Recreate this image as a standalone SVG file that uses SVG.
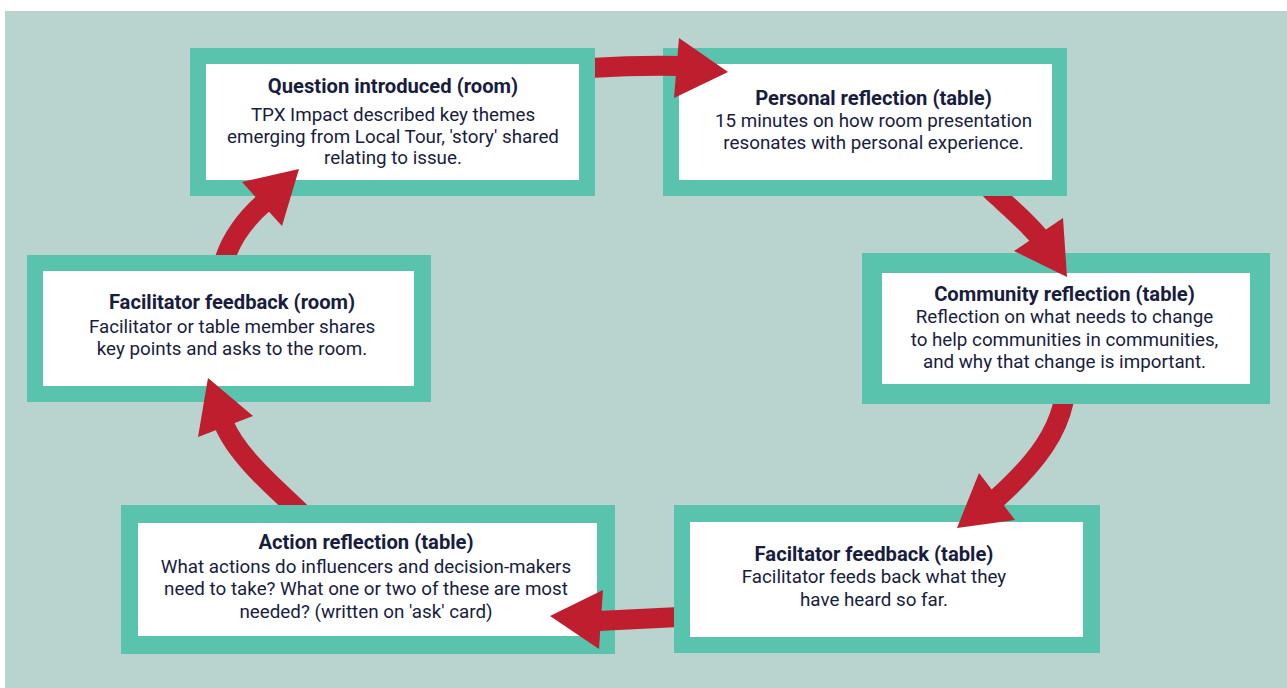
<svg xmlns="http://www.w3.org/2000/svg" width="1287" height="688" viewBox="0 0 1287 688">
<style>
.frame{fill:#5ac3ae}
.inner{fill:#ffffff}
.t{font-family:Roboto,"Liberation Sans",sans-serif;font-size:18.8px;fill:#181c3e;text-anchor:middle}
.b{font-weight:bold;font-size:20.2px}
.shaft{fill:none;stroke:#be1e2d;stroke-width:20}
.head{fill:#be1e2d}
</style>
<defs>
<clipPath id="c1"><rect x="595" y="0" width="692" height="688"/></clipPath>
<clipPath id="c2"><rect x="0" y="196" width="1287" height="492"/></clipPath>
<clipPath id="c3"><rect x="0" y="404" width="1287" height="284"/></clipPath>
<clipPath id="c4"><rect x="0" y="0" width="674" height="688"/></clipPath>
<clipPath id="c5"><rect x="0" y="0" width="1287" height="505"/></clipPath>
<clipPath id="c6"><rect x="0" y="0" width="1287" height="255"/></clipPath>
</defs>
<rect x="0" y="0" width="1287" height="688" fill="#ffffff"/>
<rect x="5" y="11" width="1282" height="677" fill="#b9d3ce"/>

<g id="node-question">
<rect class="frame" x="190" y="48" width="405" height="148"/>
<rect class="inner" x="206" y="64" width="373" height="116"/>
<text class="t b" x="393" y="93">Question introduced (room)</text>
<text class="t" x="393" y="121">TPX Impact described key themes</text>
<text class="t" x="393" y="143">emerging from Local Tour, 'story' shared</text>
<text class="t" x="393" y="164">relating to issue.</text>
</g>

<g id="node-personal">
<rect class="frame" x="663" y="48" width="404" height="148"/>
<rect class="inner" x="679" y="64" width="373" height="116"/>
<text class="t b" x="873.5" y="105">Personal reflection (table)</text>
<text class="t" x="873.5" y="127">15 minutes on how room presentation</text>
<text class="t" x="873.5" y="149">resonates with personal experience.</text>
</g>

<g id="node-community">
<rect class="frame" x="862" y="253" width="408" height="151"/>
<rect class="inner" x="882" y="273" width="368" height="111"/>
<text class="t b" x="1064.5" y="301">Community reflection (table)</text>
<text class="t" x="1064.5" y="323">Reflection on what needs to change</text>
<text class="t" x="1064.5" y="346">to help communities in communities,</text>
<text class="t" x="1064.5" y="368">and why that change is important.</text>
</g>

<g id="node-facilitator-table">
<rect class="frame" x="674" y="505" width="426" height="148"/>
<rect class="inner" x="690" y="522" width="393" height="115"/>
<text class="t b" x="874" y="561">Faciltator feedback (table)</text>
<text class="t" x="874" y="583">Facilitator feeds back what they</text>
<text class="t" x="874" y="606">have heard so far.</text>
</g>

<g id="node-action">
<rect class="frame" x="121" y="505" width="494" height="149"/>
<rect class="inner" x="138" y="523" width="459" height="113"/>
<text class="t b" x="366" y="549">Action reflection (table)</text>
<text class="t" x="366" y="573">What actions do influencers and decision-makers</text>
<text class="t" x="366" y="595">need to take? What one or two of these are most</text>
<text class="t" x="366" y="618">needed? (written on 'ask' card)</text>
</g>

<g id="node-facilitator-room">
<rect class="frame" x="27" y="255" width="404" height="147"/>
<rect class="inner" x="43" y="271" width="371" height="115"/>
<text class="t b" x="232" y="309">Facilitator feedback (room)</text>
<text class="t" x="232" y="333">Facilitator or table member shares</text>
<text class="t" x="232" y="355">key points and asks to the room.</text>
</g>

<g id="connectors">
<path class="shaft" clip-path="url(#c1)" d="M585 68.5 L592 68 Q635 65 682 66"/>
<polygon class="head" points="679,38 728,72 674,98"/>

<path class="shaft" clip-path="url(#c2)" d="M983 182 L995 194 C1007 205 1026 221 1040 238"/>
<polygon class="head" points="1014,251 1063,218 1067,277"/>

<path class="shaft" clip-path="url(#c3)" d="M1066 390 L1064 400 C1058 430 1040 460 995 500"/>
<polygon class="head" points="979,473 1015,520 957,528"/>

<path class="shaft" clip-path="url(#c4)" d="M690 617 L678 617 Q640 619 598 621"/>
<polygon class="head" points="603,590 599,649 550,616"/>

<path class="shaft" clip-path="url(#c5)" d="M306 518 L296 508 C282 494 238 458 224 424"/>
<polygon class="head" points="198,437 208,378 253,416"/>

<path class="shaft" clip-path="url(#c6)" d="M221 272 L224 262 C230 240 246 218 266 201"/>
<polygon class="head" points="242,182 299,169 282,226"/>
</g>
</svg>
